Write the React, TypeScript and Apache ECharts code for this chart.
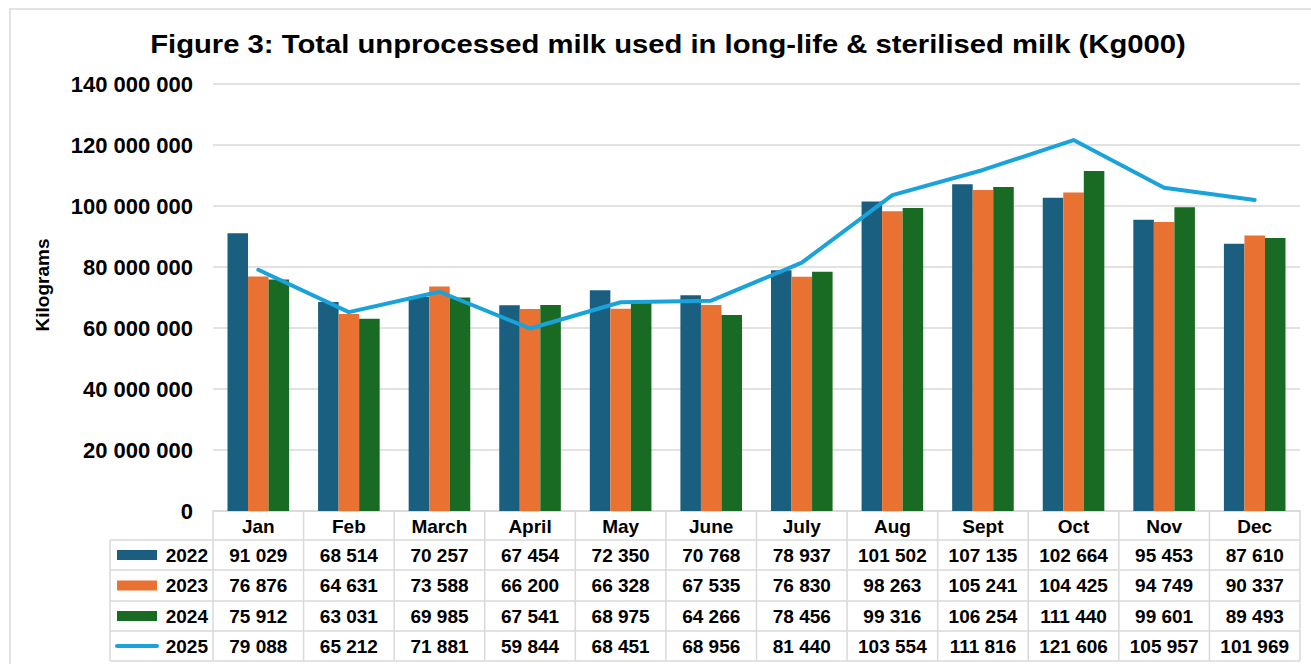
import React, { useEffect, useRef } from "react";
import * as echarts from "echarts";

const categories = ["Jan", "Feb", "March", "April", "May", "June", "July", "Aug", "Sept", "Oct", "Nov", "Dec"];
const seriesNames = ["2022", "2023", "2024", "2025"];
// values in Kg000 (as shown in the data table)
const s2022 = [91029, 68514, 70257, 67454, 72350, 70768, 78937, 101502, 107135, 102664, 95453, 87610];
const s2023 = [76876, 64631, 73588, 66200, 66328, 67535, 76830, 98263, 105241, 104425, 94749, 90337];
const s2024 = [75912, 63031, 69985, 67541, 68975, 64266, 78456, 99316, 106254, 111440, 99601, 89493];
const s2025 = [79088, 65212, 71881, 59844, 68451, 68956, 81440, 103554, 111816, 121606, 105957, 101969];
const colors = ["#1a5e80", "#e97132", "#196b24", "#1aa3db"];
const titleText = "Figure 3: Total unprocessed milk used in long-life & sterilised milk (Kg000)";

const W = 1311;
const H = 664;
const FONT = "'Liberation Sans', Arial, sans-serif";

function fmt(n: number): string {
  return String(Math.round(n)).replace(/\B(?=(\d{3})+(?!\d))/g, " ");
}

export default function App() {
  const ref = useRef<HTMLDivElement>(null);
  useEffect(() => {
    if (!ref.current) return;
    const chart = echarts.init(ref.current, null, { renderer: "svg" });
    const L = 213, R = 1300, T = 84, B = 511;
    const cw = (R - L) / categories.length;
    const rows = [511, 540, 570, 601, 631, 661];
    const grid = "#d9d9d9";
    const all = [s2022, s2023, s2024, s2025];

    const g: any[] = [];
    // outer border
    g.push({ type: "rect", shape: { x: 10, y: 9, width: 1320, height: 700 }, style: { fill: "none", stroke: grid, lineWidth: 1.5 }, silent: true });
    // title
    g.push({ type: "text", x: 668, y: 44, scaleX: 1.17, style: { text: titleText, font: `bold 25px ${FONT}`, fill: "#000", align: "center", verticalAlign: "middle" } });
    // horizontal table lines
    for (let r = 1; r < rows.length; r++) {
      g.push({ type: "line", shape: { x1: 110, y1: rows[r], x2: R, y2: rows[r] }, style: { stroke: grid, lineWidth: 1.5 } });
    }
    g.push({ type: "line", shape: { x1: 110, y1: rows[1], x2: 110, y2: rows[5] }, style: { stroke: grid, lineWidth: 1.5 } });
    for (let i = 0; i <= categories.length; i++) {
      const x = L + i * cw;
      g.push({ type: "line", shape: { x1: x, y1: rows[0], x2: x, y2: rows[5] }, style: { stroke: grid, lineWidth: 1.5 } });
    }
    // legend keys + values
    all.forEach((arr, r) => {
      const yc = (rows[r + 1] + rows[r + 2]) / 2;
      if (r < 3) {
        g.push({ type: "rect", shape: { x: 117, y: yc - 5, width: 40, height: 10 }, style: { fill: colors[r] } });
      } else {
        g.push({ type: "line", shape: { x1: 117, y1: yc, x2: 157, y2: yc }, style: { stroke: colors[r], lineWidth: 4, lineCap: "round" } });
      }
      g.push({ type: "text", x: 208, y: yc, style: { text: seriesNames[r], font: `bold 19px ${FONT}`, fill: "#000", align: "right", verticalAlign: "middle" } });
      arr.forEach((v, i) => {
        g.push({ type: "text", x: L + (i + 0.5) * cw, y: yc, style: { text: fmt(v), font: `bold 19px ${FONT}`, fill: "#000", align: "center", verticalAlign: "middle" } });
      });
    });
    // y axis name
    g.push({ type: "text", x: 42, y: 285, rotation: Math.PI / 2, style: { text: "Kilograms", font: `bold 19px ${FONT}`, fill: "#000", align: "center", verticalAlign: "middle" } });

    chart.setOption({
      animation: false,
      grid: { left: L, right: W - R, top: T, bottom: H - B, containLabel: false },
      xAxis: {
        type: "category",
        data: categories,
        axisTick: { show: false },
        axisLine: { lineStyle: { color: grid, width: 1.5 } },
        axisLabel: { margin: 6, fontFamily: FONT, fontSize: 19, fontWeight: "bold", color: "#000" },
      },
      yAxis: {
        type: "value",
        min: 0,
        max: 140000000,
        interval: 20000000,
        axisLabel: { margin: 20, fontFamily: FONT, fontSize: 22, fontWeight: "bold", color: "#000", formatter: (v: number) => fmt(v) },
        splitLine: { lineStyle: { color: grid, width: 1.5 } },
        axisLine: { show: false },
        axisTick: { show: false },
      },
      series: [
        ...[s2022, s2023, s2024].map((arr, k) => ({
          name: seriesNames[k],
          type: "bar",
          data: arr.map((v) => v * 1000),
          barGap: "0%",
          barCategoryGap: "32%",
          itemStyle: { color: colors[k] },
        })),
        {
          name: seriesNames[3],
          type: "line",
          data: s2025.map((v) => v * 1000),
          showSymbol: false,
          symbol: "none",
          lineStyle: { color: colors[3], width: 4, cap: "round", join: "round" },
          z: 5,
        },
      ],
      graphic: g,
    });
    return () => chart.dispose();
  }, []);
  return <div ref={ref} style={{ position: "fixed", left: 0, top: 0, width: W, height: H, background: "#fff" }} />;
}
